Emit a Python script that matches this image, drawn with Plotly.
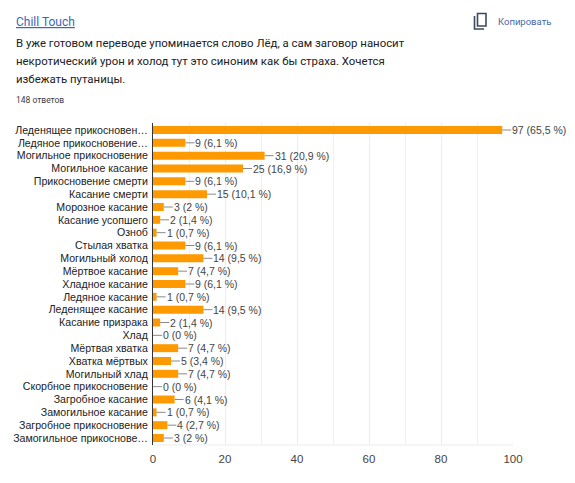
import plotly.graph_objects as go

categories = [
    "Леденящее прикосновен…", "Ледяное прикосновение…", "Могильное прикосновение",
    "Могильное касание", "Прикосновение смерти", "Касание смерти", "Морозное касание",
    "Касание усопшего", "Озноб", "Стылая хватка", "Могильный холод", "Мёртвое касание",
    "Хладное касание", "Ледяное касание", "Леденящее касание", "Касание призрака",
    "Хлад", "Мёртвая хватка", "Хватка мёртвых", "Могильный хлад",
    "Скорбное прикосновение", "Загробное касание", "Замогильное касание",
    "Загробное прикосновение", "Замогильное прикоснове…",
]
counts = [97, 9, 31, 25, 9, 15, 3, 2, 1, 9, 14, 7, 9, 1, 14, 2, 0, 7, 5, 7, 0, 6, 1, 4, 3]
percents = ["65,5", "6,1", "20,9", "16,9", "6,1", "10,1", "2", "1,4", "0,7", "6,1", "9,5",
            "4,7", "6,1", "0,7", "9,5", "1,4", "0", "4,7", "3,4", "4,7", "0", "4,1", "0,7",
            "2,7", "2"]
x_ticks = [0, 20, 40, 60, 80, 100]

# page body has an 8px margin, so the figure is drawn 8px smaller and shifted
OFF = 8
W, H = 575 - OFF, 483 - OFF
L, R, T, B = 153, 513, 123, 445


def px(x):
    return (x - L) / (R - L)


def py(y):
    return (B - y) / (B - T)


fig = go.Figure()
fig.add_trace(go.Bar(
    x=counts, y=categories, orientation="h", width=0.62,
    marker={"color": "#ff9900", "line": {"width": 0}}, hoverinfo="x+y",
))

# value labels with a short grey stem, like the Forms chart
for c, v, p in zip(categories, counts, percents):
    fig.add_annotation(x=v, y=c, text=f"{v} ({p} %)", showarrow=True, arrowhead=0,
                       arrowwidth=1, arrowcolor="#8a8a8a", ax=9, ay=0, standoff=0,
                       xanchor="left", borderpad=0,
                       font={"size": 10.5, "color": "#444444", "family": "Liberation Sans, Arial"})

head = [
    (14, 22, "<u>Chill Touch</u>", 12, "#3b66b8"),
    (14, 43, "В уже готовом переводе упоминается слово Лёд, а сам заговор наносит", 11.4, "#202124"),
    (14, 61, "некротический урон и холод тут это синоним как бы страха. Хочется", 11.4, "#202124"),
    (14, 79, "избежать путаницы.", 11.4, "#202124"),
    (14, 100, "148 ответов", 8.5, "#3c4043"),
    (496, 22, "Копировать", 9.5, "#4769a8"),
]
for x0, y0, txt, size, col in head:
    fig.add_annotation(xref="paper", yref="paper", x=px(x0), y=py(y0), text=txt, showarrow=False,
                       xanchor="left", yanchor="middle",
                       font={"size": size, "color": col, "family": "Roboto, Arial"})

# copy icon
icon = "#3c4a5e"
fig.add_shape(type="path", xref="paper", yref="paper", line={"color": icon, "width": 1.6},
              path=f"M {px(474.5)} {py(16)} L {px(474.5)} {py(29)} L {px(484)} {py(29)}")
fig.add_shape(type="rect", xref="paper", yref="paper", line={"color": icon, "width": 1.6},
              x0=px(477.5), x1=px(486), y0=py(13.5), y1=py(26))

fig.update_layout(
    width=W, height=H,
    margin={"l": L - OFF, "r": 575 - R, "t": T - OFF, "b": 483 - B, "autoexpand": False},
    paper_bgcolor="white", plot_bgcolor="white", showlegend=False,
    font={"family": "Liberation Sans, Arial", "size": 11, "color": "#222222"},
    xaxis={"range": [0, 100], "tickmode": "array", "tickvals": x_ticks, "showgrid": True,
           "gridcolor": "#ececec", "gridwidth": 1, "zeroline": False, "showline": False,
           "tickfont": {"size": 11.5, "color": "#444444"}, "ticks": "", "ticklabelstandoff": 5,
           "automargin": False,
           "minor": {"dtick": 10, "tick0": 0, "showgrid": True, "gridcolor": "#f0f0f0"}},
    yaxis={"categoryorder": "array", "categoryarray": categories, "autorange": "reversed",
           "tickmode": "array", "tickvals": categories,
           "showline": True, "linecolor": "#333333", "linewidth": 1, "ticks": "",
           "tickfont": {"size": 10.6, "color": "#222222"}, "ticklabelstandoff": 2,
           "automargin": False},
)
fig.add_shape(type="line", xref="paper", yref="paper", x0=0, x1=1, y0=0, y1=0,
              line={"color": "#ececec", "width": 1}, layer="below")

fig.write_html("out.html")
